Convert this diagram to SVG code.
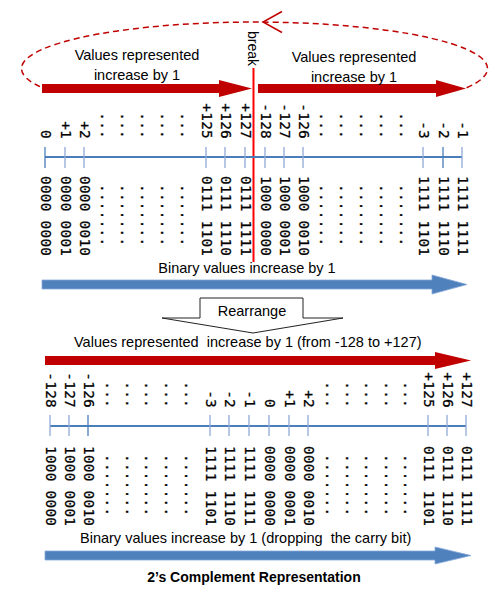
<svg xmlns="http://www.w3.org/2000/svg" width="500" height="602" viewBox="0 0 500 602">
<style>
.sans{font-family:"Liberation Sans",Arial,sans-serif;font-size:14.5px;fill:#000}
.pre{white-space:pre}
.mono{font-family:"DejaVu Sans Mono","Liberation Mono",monospace;font-size:14.4px;letter-spacing:0.25px;fill:#000;stroke:#000;stroke-width:0.25}
.end{text-anchor:end}
.mid{text-anchor:middle}
.axis{stroke:#4A7EBB;stroke-width:2;fill:none}
.tick{stroke:#8EAAD6;stroke-width:1.3}
.red{fill:#C00000}
.blue{fill:#4F81BD;stroke:#86A8D8;stroke-width:0.8}
</style>
<rect width="500" height="602" fill="#fff"/>

<g id="connectors">
<path d="M466.6 87.8 A233 46.5 0 1 0 42.4 87.8" fill="none" stroke="#C00000" stroke-width="1.5" stroke-dasharray="6 4"/>
<polyline points="282,11.5 263,22 282,32.5" fill="none" stroke="#C00000" stroke-width="1.5"/>
</g>

<g id="top-left-arrow">
<polygon class="red" points="42,84 219,84 219,80 252,88.5 219,97 219,93 42,93"/>
<text class="sans mid" x="137" y="60">Values represented</text>
<text class="sans mid" x="137" y="80">increase by 1</text>
</g>

<g id="top-right-arrow">
<polygon class="red" points="258,84 436,84 436,80 466,88.5 436,97 436,93 258,93"/>
<text class="sans mid" x="354" y="61.5">Values represented</text>
<text class="sans mid" x="354" y="81.5">increase by 1</text>
</g>

<g id="break">
<line x1="253.5" y1="68" x2="253.5" y2="262" stroke="#FF0000" stroke-width="2"/>
<text class="sans" style="font-size:14px" transform="translate(248,31) rotate(90)">break</text>
</g>

<g id="top-number-line">
<line class="axis" x1="45" y1="157" x2="462" y2="157"/>
<g class="tick">
<line x1="45" y1="147" x2="45" y2="168" stroke="#4A7EBB"/>
<line x1="65" y1="147" x2="65" y2="168"/>
<line x1="84" y1="147" x2="84" y2="168"/>
<line x1="206" y1="147" x2="206" y2="168"/>
<line x1="225" y1="147" x2="225" y2="168"/>
<line x1="245" y1="147" x2="245" y2="168"/>
<line x1="265" y1="147" x2="265" y2="168"/>
<line x1="284" y1="147" x2="284" y2="168"/>
<line x1="303" y1="147" x2="303" y2="168"/>
<line x1="423" y1="147" x2="423" y2="168"/>
<line x1="443" y1="147" x2="443" y2="168" stroke="#4A7EBB"/>
<line x1="462" y1="147" x2="462" y2="168"/>
</g>
</g>

<g id="top-values">
<text class="mono end" transform="translate(41,139) rotate(90)">0</text>
<text class="mono end" transform="translate(61,139) rotate(90)">+1</text>
<text class="mono end" transform="translate(80,139) rotate(90)">+2</text>
<text class="mono end" transform="translate(202,139) rotate(90)">+125</text>
<text class="mono end" transform="translate(221,139) rotate(90)">+126</text>
<text class="mono end" transform="translate(241,139) rotate(90)">+127</text>
<text class="mono end" transform="translate(261,139) rotate(90)">-128</text>
<text class="mono end" transform="translate(280,139) rotate(90)">-127</text>
<text class="mono end" transform="translate(299,139) rotate(90)">-126</text>
<text class="mono end" transform="translate(419,139) rotate(90)">-3</text>
<text class="mono end" transform="translate(439,139) rotate(90)">-2</text>
<text class="mono end" transform="translate(458,139) rotate(90)">-1</text>
<text class="mono end" transform="translate(100.8,139) rotate(90)">...</text>
<text class="mono end" transform="translate(120.8,139) rotate(90)">...</text>
<text class="mono end" transform="translate(140.8,139) rotate(90)">...</text>
<text class="mono end" transform="translate(160.8,139) rotate(90)">...</text>
<text class="mono end" transform="translate(180.8,139) rotate(90)">...</text>
<text class="mono end" transform="translate(319.8,139) rotate(90)">...</text>
<text class="mono end" transform="translate(339.8,139) rotate(90)">...</text>
<text class="mono end" transform="translate(359.8,139) rotate(90)">...</text>
<text class="mono end" transform="translate(379.8,139) rotate(90)">...</text>
<text class="mono end" transform="translate(399.8,139) rotate(90)">...</text>
</g>

<g id="top-binary">
<text class="mono" transform="translate(41,176) rotate(90)">0000 0000</text>
<text class="mono" transform="translate(61,176) rotate(90)">0000 0001</text>
<text class="mono" transform="translate(80,176) rotate(90)">0000 0010</text>
<text class="mono" transform="translate(202,176) rotate(90)">0111 1101</text>
<text class="mono" transform="translate(221,176) rotate(90)">0111 1110</text>
<text class="mono" transform="translate(241,176) rotate(90)">0111 1111</text>
<text class="mono" transform="translate(261,176) rotate(90)">1000 0000</text>
<text class="mono" transform="translate(280,176) rotate(90)">1000 0001</text>
<text class="mono" transform="translate(299,176) rotate(90)">1000 0010</text>
<text class="mono" transform="translate(419,176) rotate(90)">1111 1101</text>
<text class="mono" transform="translate(439,176) rotate(90)">1111 1110</text>
<text class="mono" transform="translate(458,176) rotate(90)">1111 1111</text>
<text class="mono" transform="translate(100.8,184) rotate(90)">.......</text>
<text class="mono" transform="translate(120.8,184) rotate(90)">.......</text>
<text class="mono" transform="translate(140.8,184) rotate(90)">.......</text>
<text class="mono" transform="translate(160.8,184) rotate(90)">.......</text>
<text class="mono" transform="translate(180.8,184) rotate(90)">.......</text>
<text class="mono" transform="translate(319.8,184) rotate(90)">.......</text>
<text class="mono" transform="translate(339.8,184) rotate(90)">.......</text>
<text class="mono" transform="translate(359.8,184) rotate(90)">.......</text>
<text class="mono" transform="translate(379.8,184) rotate(90)">.......</text>
<text class="mono" transform="translate(399.8,184) rotate(90)">.......</text>
</g>

<g id="top-binary-arrow">
<text class="sans mid" x="247" y="272.5">Binary values increase by 1</text>
<polygon class="blue" points="42,280 432,280 432,275 467,284.5 432,294 432,289 42,289"/>
</g>

<g id="rearrange">
<polygon points="200,298 303,298 303,318 343,318 253,333 162,318 200,318" fill="#fff" stroke="#222" stroke-width="1"/>
<text class="sans mid" x="252" y="316">Rearrange</text>
</g>

<g id="bottom-red-arrow">
<text class="sans pre" xml:space="preserve" x="74" y="347">Values represented  increase by 1 (from -128 to +127)</text>
<polygon class="red" points="45,356 435,356 435,352 471,360.5 435,369 435,365 45,365"/>
</g>

<g id="bottom-number-line">
<line class="axis" x1="50" y1="426" x2="466" y2="426"/>
<g class="tick">
<line x1="50" y1="415" x2="50" y2="436"/>
<line x1="69" y1="415" x2="69" y2="436"/>
<line x1="88" y1="415" x2="88" y2="436" stroke="#4A7EBB"/>
<line x1="210" y1="415" x2="210" y2="436"/>
<line x1="229" y1="415" x2="229" y2="436"/>
<line x1="249" y1="415" x2="249" y2="436"/>
<line x1="269" y1="415" x2="269" y2="436"/>
<line x1="289" y1="415" x2="289" y2="436"/>
<line x1="308" y1="415" x2="308" y2="436"/>
<line x1="428" y1="415" x2="428" y2="436"/>
<line x1="447" y1="415" x2="447" y2="436"/>
<line x1="466" y1="415" x2="466" y2="436"/>
</g>
</g>

<g id="bottom-values">
<text class="mono end" transform="translate(46,408) rotate(90)">-128</text>
<text class="mono end" transform="translate(65,408) rotate(90)">-127</text>
<text class="mono end" transform="translate(84,408) rotate(90)">-126</text>
<text class="mono end" transform="translate(206,408) rotate(90)">-3</text>
<text class="mono end" transform="translate(225,408) rotate(90)">-2</text>
<text class="mono end" transform="translate(245,408) rotate(90)">-1</text>
<text class="mono end" transform="translate(265,408) rotate(90)">0</text>
<text class="mono end" transform="translate(285,408) rotate(90)">+1</text>
<text class="mono end" transform="translate(304,408) rotate(90)">+2</text>
<text class="mono end" transform="translate(424,408) rotate(90)">+125</text>
<text class="mono end" transform="translate(443,408) rotate(90)">+126</text>
<text class="mono end" transform="translate(462,408) rotate(90)">+127</text>
<text class="mono end" transform="translate(105.8,408) rotate(90)">...</text>
<text class="mono end" transform="translate(125.8,408) rotate(90)">...</text>
<text class="mono end" transform="translate(144.8,408) rotate(90)">...</text>
<text class="mono end" transform="translate(164.8,408) rotate(90)">...</text>
<text class="mono end" transform="translate(184.8,408) rotate(90)">...</text>
<text class="mono end" transform="translate(325.8,408) rotate(90)">...</text>
<text class="mono end" transform="translate(345.8,408) rotate(90)">...</text>
<text class="mono end" transform="translate(364.8,408) rotate(90)">...</text>
<text class="mono end" transform="translate(384.8,408) rotate(90)">...</text>
<text class="mono end" transform="translate(403.8,408) rotate(90)">...</text>
</g>

<g id="bottom-binary">
<text class="mono" transform="translate(46,446) rotate(90)">1000 0000</text>
<text class="mono" transform="translate(65,446) rotate(90)">1000 0001</text>
<text class="mono" transform="translate(84,446) rotate(90)">1000 0010</text>
<text class="mono" transform="translate(206,446) rotate(90)">1111 1101</text>
<text class="mono" transform="translate(225,446) rotate(90)">1111 1110</text>
<text class="mono" transform="translate(245,446) rotate(90)">1111 1111</text>
<text class="mono" transform="translate(265,446) rotate(90)">0000 0000</text>
<text class="mono" transform="translate(285,446) rotate(90)">0000 0001</text>
<text class="mono" transform="translate(304,446) rotate(90)">0000 0010</text>
<text class="mono" transform="translate(424,446) rotate(90)">0111 1101</text>
<text class="mono" transform="translate(443,446) rotate(90)">0111 1110</text>
<text class="mono" transform="translate(462,446) rotate(90)">0111 1111</text>
<text class="mono" transform="translate(105.8,454) rotate(90)">.......</text>
<text class="mono" transform="translate(125.8,454) rotate(90)">.......</text>
<text class="mono" transform="translate(144.8,454) rotate(90)">.......</text>
<text class="mono" transform="translate(164.8,454) rotate(90)">.......</text>
<text class="mono" transform="translate(184.8,454) rotate(90)">.......</text>
<text class="mono" transform="translate(325.8,454) rotate(90)">.......</text>
<text class="mono" transform="translate(345.8,454) rotate(90)">.......</text>
<text class="mono" transform="translate(364.8,454) rotate(90)">.......</text>
<text class="mono" transform="translate(384.8,454) rotate(90)">.......</text>
<text class="mono" transform="translate(403.8,454) rotate(90)">.......</text>
</g>

<g id="bottom-binary-arrow">
<text class="sans pre" xml:space="preserve" x="80" y="543">Binary values increase by 1 (dropping  the carry bit)</text>
<polygon class="blue" points="45,551 435,551 435,547 471,555.5 435,564 435,560 45,560"/>
</g>

<g id="title">
<text class="sans mid" style="font-weight:bold;font-size:14px" x="254" y="581.5">2’s Complement Representation</text>
</g>
</svg>
